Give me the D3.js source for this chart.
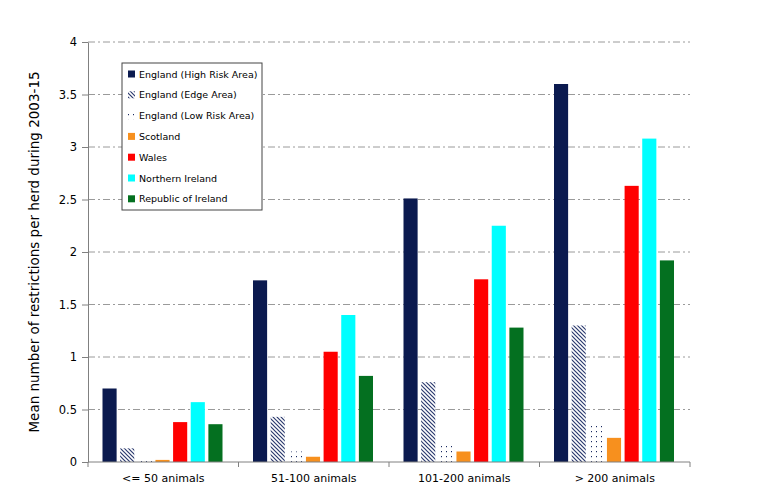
<!DOCTYPE html>
<html><head><meta charset="utf-8">
<script src="https://cdn.jsdelivr.net/npm/d3@7"></script>
<style>body{margin:0;background:#fff;} svg{display:block;}</style>
</head><body>
<svg id="chart" width="763" height="497"></svg>
<script>
const categories = ["<= 50 animals", "51-100 animals", "101-200 animals", "> 200 animals"];
const seriesNames = ["England (High Risk Area)", "England (Edge Area)", "England (Low Risk Area)", "Scotland", "Wales", "Northern Ireland", "Republic of Ireland"];
const englandHigh = [0.70, 1.73, 2.51, 3.60];
const englandEdge = [0.13, 0.43, 0.76, 1.30];
const englandLow = [0.03, 0.10, 0.16, 0.36];
const scotland = [0.02, 0.05, 0.10, 0.23];
const wales = [0.38, 1.05, 1.74, 2.63];
const northernIreland = [0.57, 1.40, 2.25, 3.08];
const republicIreland = [0.36, 0.82, 1.28, 1.92];
const yTicks = [0, 0.5, 1, 1.5, 2, 2.5, 3, 3.5, 4];
const yTickLabels = ["0", "0.5", "1", "1.5", "2", "2.5", "3", "3.5", "4"];

const seriesValues = [englandHigh, englandEdge, englandLow, scotland, wales, northernIreland, republicIreland];
const fills = ["#0b1a4f", "url(#edge)", "url(#low)", "#f7901e", "#ff0000", "#00ffff", "#047020"];

const svg = d3.select("#chart");
const margin = {left: 88, right: 73, top: 42, bottom: 35};
const W = 763, H = 497;
const x0 = d3.scaleBand().domain(categories).range([margin.left, W - margin.right]).paddingInner(0).paddingOuter(0);
const y = d3.scaleLinear().domain([0, 4]).range([H - margin.bottom, margin.top]);
const x1 = d3.scaleBand().domain(seriesNames).range([14.5, x0.bandwidth() - 16]).paddingInner(0.2).paddingOuter(0);

const font = "'DejaVu Sans', Verdana, sans-serif";
const defs = svg.append("defs");
const pe = defs.append("pattern").attr("id", "edge").attr("patternUnits", "userSpaceOnUse").attr("width", 4).attr("height", 4);
pe.append("rect").attr("width", 4).attr("height", 4).attr("fill", "#fff");
pe.append("path").attr("d", "M-1,-1 L5,5 M-1,3 L1,5 M3,-1 L5,1").attr("stroke", "#2b3a6e").attr("stroke-width", 1.2);
const pl = defs.append("pattern").attr("id", "low").attr("patternUnits", "userSpaceOnUse").attr("width", 5).attr("height", 5);
pl.append("rect").attr("width", 5).attr("height", 5).attr("fill", "#fff");
pl.append("rect").attr("x", 1).attr("y", 1).attr("width", 1).attr("height", 1.2).attr("fill", "#1a2a60");

// gridlines
svg.append("g").selectAll("line").data(yTicks.filter(d => d > 0)).join("line")
  .attr("x1", margin.left).attr("x2", W - margin.right)
  .attr("y1", d => y(d)).attr("y2", d => y(d))
  .attr("stroke", "#9a9a9a").attr("stroke-width", 1)
  .attr("stroke-dasharray", "7,3,2,3");

// bars
const g = svg.append("g");
categories.forEach((c, ci) => {
  seriesNames.forEach((s, si) => {
    const v = seriesValues[si][ci];
    g.append("rect")
      .attr("x", x0(c) + x1(s)).attr("width", x1.bandwidth())
      .attr("y", y(v)).attr("height", y(0) - y(v))
      .attr("fill", fills[si]);
  });
});

// y axis
const yAxis = d3.axisLeft(y).tickValues(yTicks).tickFormat((d, i) => yTickLabels[i]).tickSize(6).tickSizeOuter(0);
const ya = svg.append("g").attr("transform", `translate(${margin.left},0)`).call(yAxis);
ya.select(".domain").attr("stroke", "#808080");
ya.selectAll(".tick line").attr("stroke", "#808080");
ya.selectAll("text").attr("font-family", font).attr("font-size", 11.5).attr("fill", "#000").attr("x", -11);

// x axis
const xa = svg.append("g").attr("transform", `translate(0,${y(0)})`);
xa.append("line").attr("x1", margin.left).attr("x2", W - margin.right).attr("y1", 0).attr("y2", 0).attr("stroke", "#808080");
const bounds = categories.map(c => x0(c)).concat([x0(categories[categories.length - 1]) + x0.bandwidth()]);
xa.selectAll("line.tk").data(bounds).join("line").attr("class", "tk")
  .attr("x1", d => d).attr("x2", d => d).attr("y1", 0).attr("y2", 5).attr("stroke", "#808080");
xa.selectAll("text").data(categories).join("text")
  .attr("x", d => x0(d) + x0.bandwidth() / 2).attr("y", 20)
  .attr("text-anchor", "middle").attr("font-family", font).attr("font-size", 11).attr("fill", "#000")
  .text(d => d);

// y title
svg.append("text").attr("transform", `translate(39,${(margin.top + H - margin.bottom) / 2}) rotate(-90)`)
  .attr("text-anchor", "middle").attr("font-family", font).attr("font-size", 13.5).attr("fill", "#000")
  .text("Mean number of restrictions per herd during 2003-15");

// legend
const lg = svg.append("g").attr("transform", "translate(122,63)");
lg.append("rect").attr("width", 140).attr("height", 147).attr("fill", "#fff").attr("stroke", "#444").attr("stroke-width", 1);
seriesNames.forEach((s, i) => {
  const yy = 11 + i * 20.8;
  lg.append("rect").attr("x", 6).attr("y", yy - 3.5).attr("width", 7).attr("height", 7).attr("fill", fills[i]);
  lg.append("text").attr("x", 17).attr("y", yy + 3.5).attr("font-family", font).attr("font-size", 9.5).attr("fill", "#000").text(s);
});
</script>
</body></html>
